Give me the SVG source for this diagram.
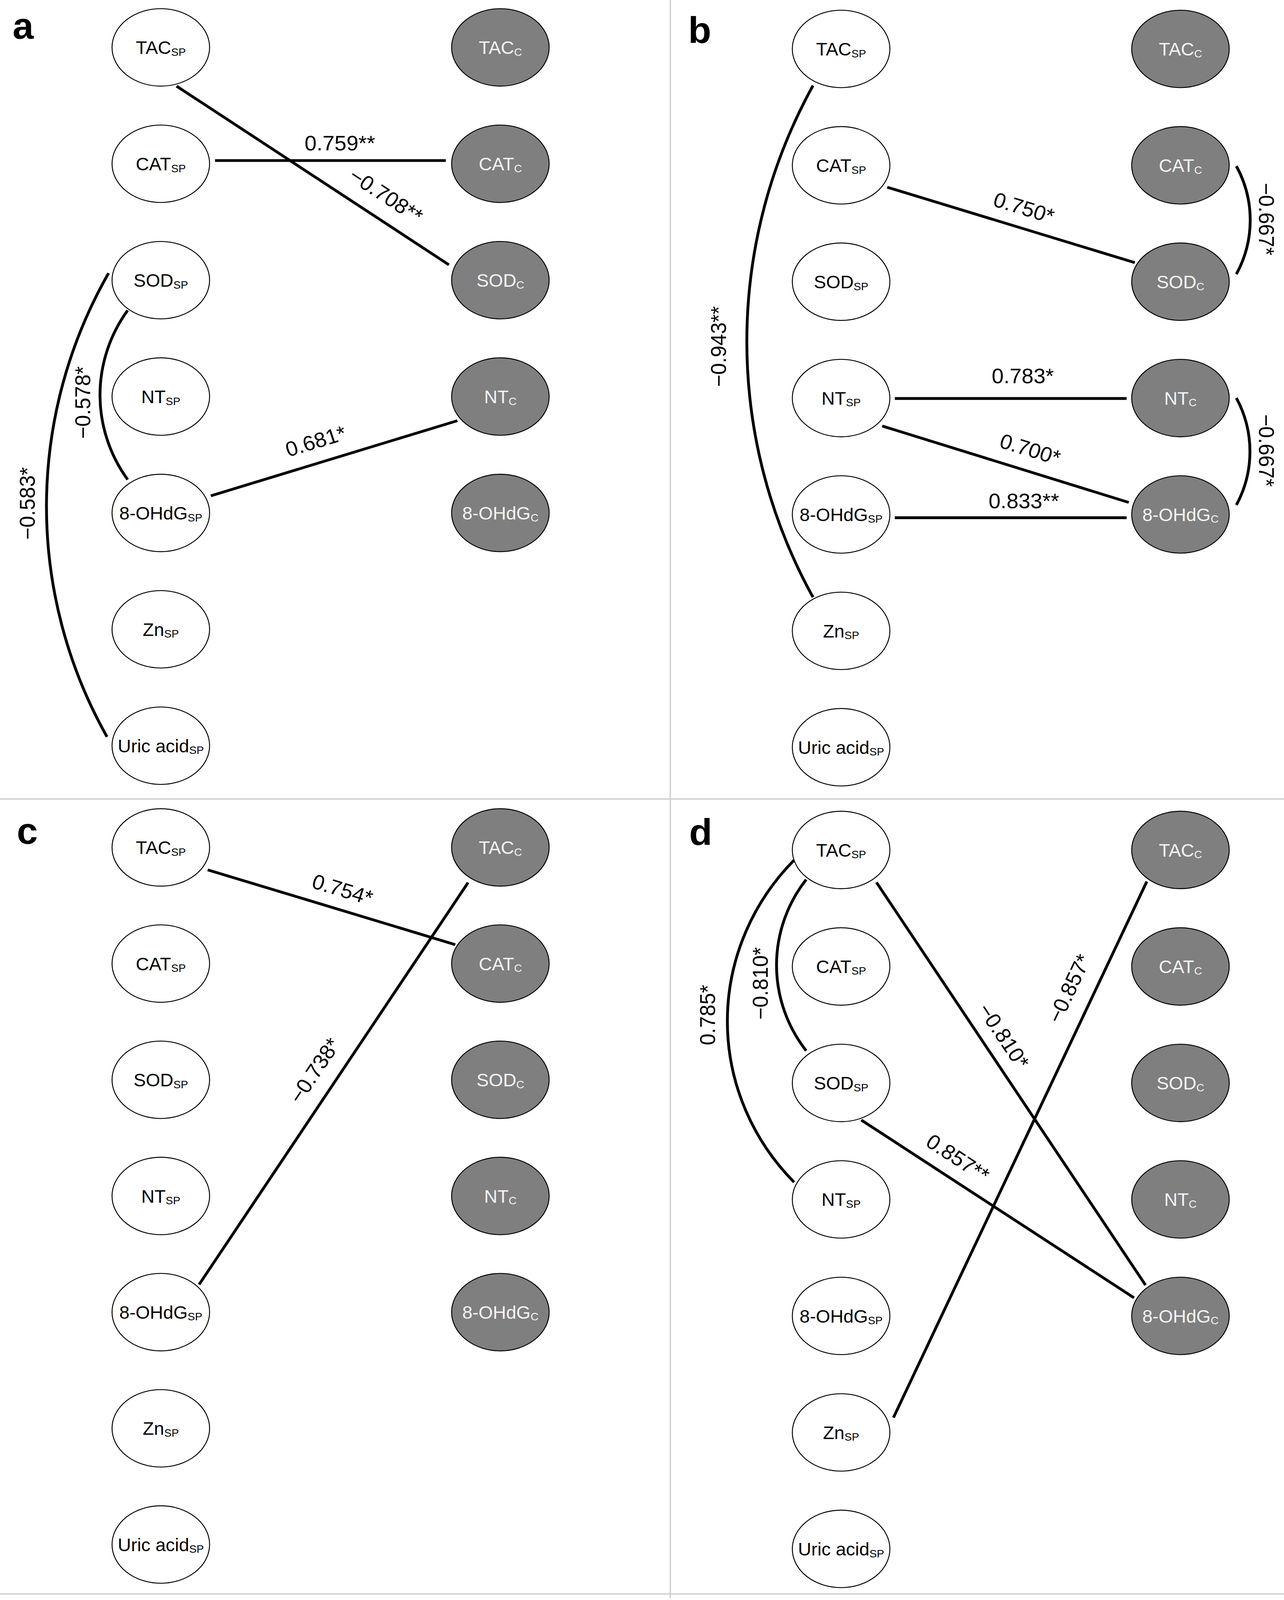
<svg xmlns="http://www.w3.org/2000/svg" width="3288" height="4211" viewBox="0 0 3288 4211">
<defs>
<style>
.bg{fill:#ffffff}
.div{stroke:#cfcfcf;stroke-width:1.3;fill:none}
.sp ellipse{fill:#ffffff;stroke:#000000;stroke-width:0.9}
.c ellipse{fill:#7f7f7f;stroke:#000000;stroke-width:0.9}
.n text{font-family:"Liberation Sans",Arial,sans-serif;font-size:17.5px;text-anchor:middle}
.sp text{fill:#000000}
.c text{fill:#f4f4f4}
.n tspan{font-size:10.5px}
.e path,.e line{stroke:#000000;stroke-width:2.7;fill:none}
.lbl{font-family:"Liberation Sans",Arial,sans-serif;font-size:20.5px;text-anchor:middle;dominant-baseline:central;fill:#000000}
.pl{font-family:"Liberation Sans",Arial,sans-serif;font-size:36px;font-weight:bold;fill:#000000}
</style>
</defs>
<rect class="bg" x="0" y="0" width="3288" height="4211"/>
<g transform="scale(2.68627,2.609)">
<g id="dividers">
<line class="div" x1="639" y1="0" x2="639" y2="1568"/>
<line class="div" x1="0" y1="784" x2="1224" y2="784"/>
<line class="div" x1="0" y1="1564" x2="1224" y2="1564"/>
</g>
<g id="panel-letters">
<text class="pl" x="12" y="38">a</text>
<text class="pl" x="656" y="42">b</text>
<text class="pl" x="16" y="828">c</text>
<text class="pl" x="657" y="829">d</text>
</g>

<!-- Panel a nodes -->
<g id="a-TACsp" class="n sp"><ellipse cx="153.3" cy="46.5" rx="46.5" ry="38"/><text x="153.3" y="53">TAC<tspan dy="1.7">SP</tspan></text></g>
<g id="a-CATsp" class="n sp"><ellipse cx="153.3" cy="160.7" rx="46.5" ry="38"/><text x="153.3" y="167.2">CAT<tspan dy="1.7">SP</tspan></text></g>
<g id="a-SODsp" class="n sp"><ellipse cx="153.3" cy="274.9" rx="46.5" ry="38"/><text x="153.3" y="281.4">SOD<tspan dy="1.7">SP</tspan></text></g>
<g id="a-NTsp" class="n sp"><ellipse cx="153.3" cy="389.1" rx="46.5" ry="38"/><text x="153.3" y="395.6">NT<tspan dy="1.7">SP</tspan></text></g>
<g id="a-OHdGsp" class="n sp"><ellipse cx="153.3" cy="503.3" rx="46.5" ry="38"/><text x="153.3" y="509.8">8-OHdG<tspan dy="1.7">SP</tspan></text></g>
<g id="a-Znsp" class="n sp"><ellipse cx="153.3" cy="617.5" rx="46.5" ry="38"/><text x="153.3" y="624">Zn<tspan dy="1.7">SP</tspan></text></g>
<g id="a-Uricsp" class="n sp"><ellipse cx="153.3" cy="731.7" rx="46.5" ry="38"/><text x="153.3" y="738.2">Uric acid<tspan dy="1.7">SP</tspan></text></g>
<g id="a-TACc" class="n c"><ellipse cx="477" cy="46.5" rx="46.5" ry="38"/><text x="477" y="53">TAC<tspan dy="1.7">C</tspan></text></g>
<g id="a-CATc" class="n c"><ellipse cx="477" cy="160.7" rx="46.5" ry="38"/><text x="477" y="167.2">CAT<tspan dy="1.7">C</tspan></text></g>
<g id="a-SODc" class="n c"><ellipse cx="477" cy="274.9" rx="46.5" ry="38"/><text x="477" y="281.4">SOD<tspan dy="1.7">C</tspan></text></g>
<g id="a-NTc" class="n c"><ellipse cx="477" cy="389.1" rx="46.5" ry="38"/><text x="477" y="395.6">NT<tspan dy="1.7">C</tspan></text></g>
<g id="a-OHdGc" class="n c"><ellipse cx="477" cy="503.3" rx="46.5" ry="38"/><text x="477" y="509.8">8-OHdG<tspan dy="1.7">C</tspan></text></g>

<!-- Panel b nodes -->
<g id="b-TACsp" class="n sp"><ellipse cx="801.8" cy="48" rx="46.5" ry="38"/><text x="801.8" y="54.5">TAC<tspan dy="1.7">SP</tspan></text></g>
<g id="b-CATsp" class="n sp"><ellipse cx="801.8" cy="162.2" rx="46.5" ry="38"/><text x="801.8" y="168.7">CAT<tspan dy="1.7">SP</tspan></text></g>
<g id="b-SODsp" class="n sp"><ellipse cx="801.8" cy="276.4" rx="46.5" ry="38"/><text x="801.8" y="282.9">SOD<tspan dy="1.7">SP</tspan></text></g>
<g id="b-NTsp" class="n sp"><ellipse cx="801.8" cy="390.6" rx="46.5" ry="38"/><text x="801.8" y="397.1">NT<tspan dy="1.7">SP</tspan></text></g>
<g id="b-OHdGsp" class="n sp"><ellipse cx="801.8" cy="504.8" rx="46.5" ry="38"/><text x="801.8" y="511.3">8-OHdG<tspan dy="1.7">SP</tspan></text></g>
<g id="b-Znsp" class="n sp"><ellipse cx="801.8" cy="619" rx="46.5" ry="38"/><text x="801.8" y="625.5">Zn<tspan dy="1.7">SP</tspan></text></g>
<g id="b-Uricsp" class="n sp"><ellipse cx="801.8" cy="733.2" rx="46.5" ry="38"/><text x="801.8" y="739.7">Uric acid<tspan dy="1.7">SP</tspan></text></g>
<g id="b-TACc" class="n c"><ellipse cx="1125.3" cy="48" rx="46.5" ry="38"/><text x="1125.3" y="54.5">TAC<tspan dy="1.7">C</tspan></text></g>
<g id="b-CATc" class="n c"><ellipse cx="1125.3" cy="162.2" rx="46.5" ry="38"/><text x="1125.3" y="168.7">CAT<tspan dy="1.7">C</tspan></text></g>
<g id="b-SODc" class="n c"><ellipse cx="1125.3" cy="276.4" rx="46.5" ry="38"/><text x="1125.3" y="282.9">SOD<tspan dy="1.7">C</tspan></text></g>
<g id="b-NTc" class="n c"><ellipse cx="1125.3" cy="390.6" rx="46.5" ry="38"/><text x="1125.3" y="397.1">NT<tspan dy="1.7">C</tspan></text></g>
<g id="b-OHdGc" class="n c"><ellipse cx="1125.3" cy="504.8" rx="46.5" ry="38"/><text x="1125.3" y="511.3">8-OHdG<tspan dy="1.7">C</tspan></text></g>

<!-- Panel c nodes -->
<g id="c-TACsp" class="n sp"><ellipse cx="153.3" cy="831.5" rx="46.5" ry="38"/><text x="153.3" y="838">TAC<tspan dy="1.7">SP</tspan></text></g>
<g id="c-CATsp" class="n sp"><ellipse cx="153.3" cy="945.5" rx="46.5" ry="38"/><text x="153.3" y="952">CAT<tspan dy="1.7">SP</tspan></text></g>
<g id="c-SODsp" class="n sp"><ellipse cx="153.3" cy="1059.5" rx="46.5" ry="38"/><text x="153.3" y="1066">SOD<tspan dy="1.7">SP</tspan></text></g>
<g id="c-NTsp" class="n sp"><ellipse cx="153.3" cy="1173.5" rx="46.5" ry="38"/><text x="153.3" y="1180">NT<tspan dy="1.7">SP</tspan></text></g>
<g id="c-OHdGsp" class="n sp"><ellipse cx="153.3" cy="1287.5" rx="46.5" ry="38"/><text x="153.3" y="1294">8-OHdG<tspan dy="1.7">SP</tspan></text></g>
<g id="c-Znsp" class="n sp"><ellipse cx="153.3" cy="1401.5" rx="46.5" ry="38"/><text x="153.3" y="1408">Zn<tspan dy="1.7">SP</tspan></text></g>
<g id="c-Uricsp" class="n sp"><ellipse cx="153.3" cy="1515.5" rx="46.5" ry="38"/><text x="153.3" y="1522">Uric acid<tspan dy="1.7">SP</tspan></text></g>
<g id="c-TACc" class="n c"><ellipse cx="477" cy="831.5" rx="46.5" ry="38"/><text x="477" y="838">TAC<tspan dy="1.7">C</tspan></text></g>
<g id="c-CATc" class="n c"><ellipse cx="477" cy="945.5" rx="46.5" ry="38"/><text x="477" y="952">CAT<tspan dy="1.7">C</tspan></text></g>
<g id="c-SODc" class="n c"><ellipse cx="477" cy="1059.5" rx="46.5" ry="38"/><text x="477" y="1066">SOD<tspan dy="1.7">C</tspan></text></g>
<g id="c-NTc" class="n c"><ellipse cx="477" cy="1173.5" rx="46.5" ry="38"/><text x="477" y="1180">NT<tspan dy="1.7">C</tspan></text></g>
<g id="c-OHdGc" class="n c"><ellipse cx="477" cy="1287.5" rx="46.5" ry="38"/><text x="477" y="1294">8-OHdG<tspan dy="1.7">C</tspan></text></g>

<!-- Panel d nodes -->
<g id="d-TACsp" class="n sp"><ellipse cx="801.8" cy="834" rx="46.5" ry="38"/><text x="801.8" y="840.5">TAC<tspan dy="1.7">SP</tspan></text></g>
<g id="d-CATsp" class="n sp"><ellipse cx="801.8" cy="948.3" rx="46.5" ry="38"/><text x="801.8" y="954.8">CAT<tspan dy="1.7">SP</tspan></text></g>
<g id="d-SODsp" class="n sp"><ellipse cx="801.8" cy="1062.6" rx="46.5" ry="38"/><text x="801.8" y="1069.1">SOD<tspan dy="1.7">SP</tspan></text></g>
<g id="d-NTsp" class="n sp"><ellipse cx="801.8" cy="1176.9" rx="46.5" ry="38"/><text x="801.8" y="1183.4">NT<tspan dy="1.7">SP</tspan></text></g>
<g id="d-OHdGsp" class="n sp"><ellipse cx="801.8" cy="1291.2" rx="46.5" ry="38"/><text x="801.8" y="1297.7">8-OHdG<tspan dy="1.7">SP</tspan></text></g>
<g id="d-Znsp" class="n sp"><ellipse cx="801.8" cy="1405.5" rx="46.5" ry="38"/><text x="801.8" y="1412">Zn<tspan dy="1.7">SP</tspan></text></g>
<g id="d-Uricsp" class="n sp"><ellipse cx="801.8" cy="1519.8" rx="46.5" ry="38"/><text x="801.8" y="1526.3">Uric acid<tspan dy="1.7">SP</tspan></text></g>
<g id="d-TACc" class="n c"><ellipse cx="1125.3" cy="834" rx="46.5" ry="38"/><text x="1125.3" y="840.5">TAC<tspan dy="1.7">C</tspan></text></g>
<g id="d-CATc" class="n c"><ellipse cx="1125.3" cy="948.3" rx="46.5" ry="38"/><text x="1125.3" y="954.8">CAT<tspan dy="1.7">C</tspan></text></g>
<g id="d-SODc" class="n c"><ellipse cx="1125.3" cy="1062.6" rx="46.5" ry="38"/><text x="1125.3" y="1069.1">SOD<tspan dy="1.7">C</tspan></text></g>
<g id="d-NTc" class="n c"><ellipse cx="1125.3" cy="1176.9" rx="46.5" ry="38"/><text x="1125.3" y="1183.4">NT<tspan dy="1.7">C</tspan></text></g>
<g id="d-OHdGc" class="n c"><ellipse cx="1125.3" cy="1291.2" rx="46.5" ry="38"/><text x="1125.3" y="1297.7">8-OHdG<tspan dy="1.7">C</tspan></text></g>

<g id="connectors" class="e">
<!-- a -->
<line x1="168.3" y1="84.5" x2="427.9" y2="259.8"/>
<line x1="205" y1="157.5" x2="425" y2="157.5"/>
<line x1="201" y1="486.5" x2="436" y2="412.8"/>
<path d="M103.5,268 A472,472 0 0 0 102,723"/>
<path d="M121.7,304.5 A144,144 0 0 0 121.7,470.6"/>
<!-- b -->
<path d="M775,84 A531,531 0 0 0 775,586"/>
<line x1="845.8" y1="183.7" x2="1081.8" y2="257.7"/>
<path d="M1178.6,163 A113,113 0 0 1 1178.6,269"/>
<line x1="853" y1="391" x2="1074" y2="391"/>
<line x1="841" y1="418" x2="1076" y2="493"/>
<line x1="853" y1="508" x2="1074" y2="508"/>
<path d="M1178.6,390.5 A113,113 0 0 1 1178.6,495.5"/>
<!-- c -->
<line x1="198" y1="853.5" x2="434" y2="926.9"/>
<line x1="189.8" y1="1260.4" x2="446.2" y2="866"/>
<!-- d -->
<path d="M757,844 A228,228 0 0 0 757,1160"/>
<path d="M768.5,863 A139,139 0 0 0 768.5,1031"/>
<line x1="835.5" y1="865.8" x2="1092" y2="1261"/>
<line x1="821" y1="1099" x2="1081" y2="1273.4"/>
<line x1="851.7" y1="1391" x2="1093.2" y2="865"/>
</g>

<g id="edge-labels">
<text class="lbl" x="324" y="140.5">0.759**</text>
<text class="lbl" transform="translate(368,192) rotate(34)">−0.708**</text>
<text class="lbl" transform="translate(301,433) rotate(-17.4)">0.681*</text>
<text class="lbl" transform="translate(26,494) rotate(-90)">−0.583*</text>
<text class="lbl" transform="translate(79,395) rotate(-90)">−0.578*</text>

<text class="lbl" transform="translate(685,340) rotate(-90)">−0.943**</text>
<text class="lbl" transform="translate(976,204) rotate(17.4)">0.750*</text>
<text class="lbl" transform="translate(1207,215) rotate(90)">−0.667*</text>
<text class="lbl" x="975" y="369">0.783*</text>
<text class="lbl" transform="translate(982,441) rotate(17.7)">0.700*</text>
<text class="lbl" x="976" y="491.5">0.833**</text>
<text class="lbl" transform="translate(1207,442) rotate(90)">−0.667*</text>

<text class="lbl" transform="translate(326.5,873) rotate(17.3)">0.754*</text>
<text class="lbl" transform="translate(300,1050.5) rotate(-57)">−0.738*</text>

<text class="lbl" transform="translate(674.5,996) rotate(-90)">0.785*</text>
<text class="lbl" transform="translate(725,965) rotate(-90)">−0.810*</text>
<text class="lbl" transform="translate(956.7,1016.6) rotate(57)">−0.810*</text>
<text class="lbl" transform="translate(913,1136.5) rotate(33.9)">0.857**</text>
<text class="lbl" transform="translate(1019.3,970) rotate(-65.3)">−0.857*</text>
</g>
</g>
</svg>
